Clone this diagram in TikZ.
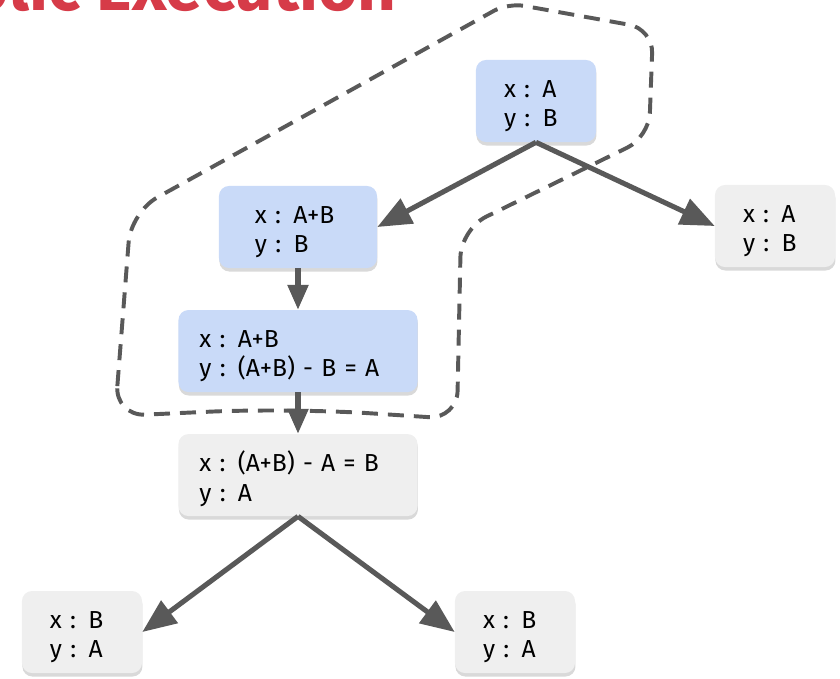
\documentclass[tikz,border=0pt]{standalone}
\usepackage{fontspec}
\newfontfamily\firafont{Fira Sans}
\usetikzlibrary{positioning,shadows,arrows.meta}
\definecolor{stateblue}{HTML}{C9DAF8}
\definecolor{stategrey}{HTML}{EFEFEF}
\definecolor{edgegrey}{HTML}{595959}
\definecolor{titlered}{HTML}{D63B48}
\tikzstyle{state} = [rectangle, rounded corners=0.25cm, minimum height=2.05cm, inner xsep=0.7cm,
     text width=1.6cm, align=left, fill=stategrey,
     drop shadow={shadow xshift=0.3pt, shadow yshift=-2.5pt, opacity=0.3},
     execute at begin node={\rule{0pt}{0.68cm}},
     font=\firafont\fontsize{17.5pt}{21.3pt}\selectfont]
\tikzstyle{sym} = [state, fill=stateblue]
\tikzstyle{mid} = [inner xsep=0.9cm, text width=2.15cm]
\tikzstyle{wide} = [inner xsep=0.525cm, text width=4.925cm]
\tikzstyle{line} = [draw=edgegrey, line width=3.6pt, -{Triangle[length=0.85cm, width=0.68cm]}]
\tikzstyle{shortline} = [line, -{Triangle[length=0.62cm, width=0.5cm]}]
\tikzstyle{region} = [draw=edgegrey, line width=2.8pt, dash pattern=on 0.4cm off 0.25cm]

\begin{document}
\begin{tikzpicture}[x=0.025cm, y=-0.025cm, node distance=3.1cm]
\useasboundingbox (0,0) rectangle (840,678);
\node (title) [anchor=base east, inner sep=0pt, text=titlered,
  font=\firafont\bfseries\fontsize{48pt}{48pt}\selectfont] at (397,10) {Symbolic Execution};

% path taken so far
\draw[region, rounded corners=0.75cm] (115,416) -- (131,212) [rounded corners=0.4cm]
  -- (508,3) [rounded corners=0.6cm] -- (653,29) -- (649,137) [rounded corners=0.7cm]
  -- (461,229) -- (457,419) [rounded corners=2cm] -- (290,408) [rounded corners=0.75cm] -- cycle;

\node (root) [sym] at (536,101) {x : A\\y : B};
\node (thenA) [sym, mid] at (298,227) {x : A+B\\y : B};
\node (elseA) [state] at (775,226) {x : A\\y : B};
\node (thenB) [sym, wide, below of=thenA] {x : A+B\\y : (A+B) - B = A};
\node (join) [state, wide, below of=thenB] {x : (A+B) - A = B\\y : A};
\node (leafL) [state] at (82,632) {x : B\\y : A};
\node (leafR) [state] at (515,632) {x : B\\y : A};

\path[line] (root.south) -- (thenA.east);
\path[line] (root.south) -- (elseA.west);
\path[shortline] (thenA) -- (thenB);
\path[shortline] (thenB) -- (join);
\path[line] (join.south) -- (leafL.east);
\path[line] (join.south) -- (leafR.west);

\end{tikzpicture}
\end{document}
